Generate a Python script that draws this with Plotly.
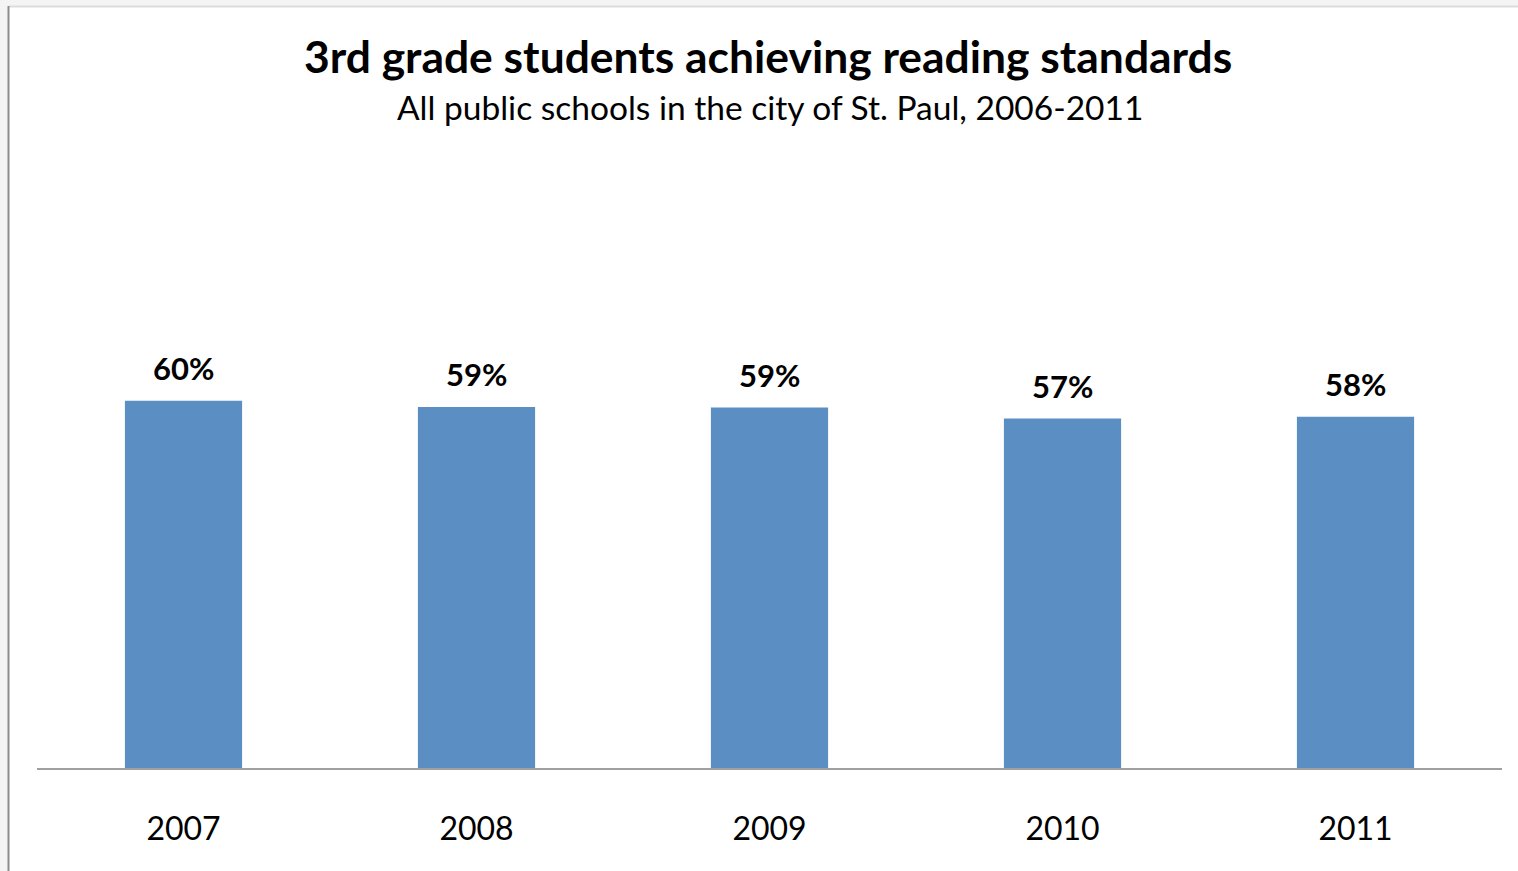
import plotly.graph_objects as go

years = ["2007", "2008", "2009", "2010", "2011"]
pct = [60.0, 59.0, 58.9, 57.1, 57.4]
labels = ["60%", "59%", "59%", "57%", "58%"]

title = "3rd grade students achieving reading standards"
subtitle = "All public schools in the city of St. Paul, 2006-2011"

W, H = 1518, 871
L, R, T, B = 37, 16, 156, 103
pw = W - L - R
ph = H - T - B

def px_x(x):
    return (x - L) / pw

def px_y(y):
    return (H - B - y) / ph

fig = go.Figure()
fig.add_trace(go.Bar(
    x=years, y=pct,
    marker=dict(color="#5B8FC4", line=dict(width=0)),
    hoverinfo="x+y",
))

for i, (v, lab) in enumerate(zip(pct, labels)):
    fig.add_annotation(x=i, y=v, xref="x", yref="y", text="<b>%s</b>" % lab,
                       showarrow=False, yanchor="bottom", yshift=12,
                       font=dict(family="Lato", size=31, color="#000"))

fig.add_annotation(x=px_x(768), y=px_y(56), xref="paper", yref="paper",
                   text="<b>%s</b>" % title, showarrow=False,
                   xanchor="center", yanchor="middle",
                   font=dict(family="Lato", size=44.4, color="#000"))
fig.add_annotation(x=px_x(770), y=px_y(107), xref="paper", yref="paper",
                   text=subtitle, showarrow=False,
                   xanchor="center", yanchor="middle",
                   font=dict(family="Lato", size=33.5, color="#000"))

shapes = [
    dict(type="rect", xref="paper", yref="paper", layer="below",
         x0=px_x(9), x1=px_x(W + 5), y0=px_y(H + 5), y1=px_y(7),
         fillcolor="white", line=dict(width=0)),
    dict(type="line", xref="paper", yref="paper", layer="below",
         x0=px_x(9), x1=px_x(W + 5), y0=px_y(6.5), y1=px_y(6.5),
         line=dict(color="#dcdcdc", width=2)),
    dict(type="line", xref="paper", yref="paper", layer="below",
         x0=px_x(8.5), x1=px_x(8.5), y0=px_y(6), y1=px_y(H + 5),
         line=dict(color="#8c8c8c", width=2)),
]

fig.update_layout(
    width=W, height=H,
    margin=dict(l=L, r=R, t=T, b=B),
    paper_bgcolor="#f4f4f4",
    plot_bgcolor="rgba(0,0,0,0)",
    bargap=0.6,
    showlegend=False,
    shapes=shapes,
    xaxis=dict(type="category", range=[-0.5, len(years) - 0.5], automargin=False,
               showline=True, linecolor="#a0a0a0", linewidth=2,
               showgrid=False, zeroline=False, ticks="",
               ticklabelstandoff=32,
               tickfont=dict(family="Lato", size=32, color="#000")),
    yaxis=dict(range=[0, 100], visible=False, showgrid=False, zeroline=False),
)

fig.write_html("out.html", config={"displayModeBar": False},
               post_script="document.body.style.margin='0';document.body.style.overflow='hidden';")
